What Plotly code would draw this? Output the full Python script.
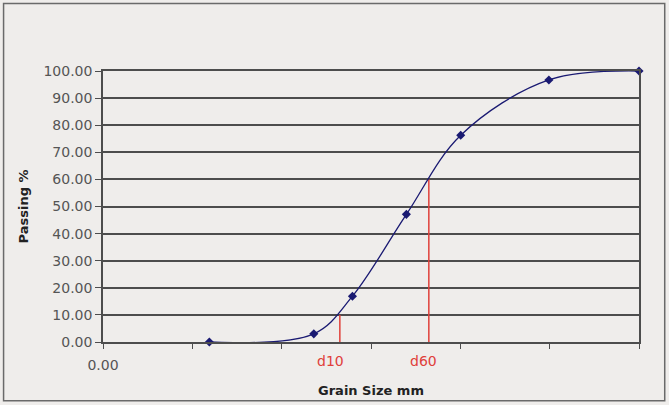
import numpy as np
import plotly.graph_objects as go

# grain size distribution (sieve data)
grain_size = [0.0155, 0.229, 0.62, 2.49, 10.1, 98.0, 1000.0]
passing = [0.0, 3.0, 16.9, 47.1, 76.3, 96.7, 100.0]

d10 = 0.448
d60 = 4.44
d_names = ["d10", "d60"]
d_pct = [10, 60]

x_ticks = [0.001, 0.01, 0.1, 1, 10, 100, 1000]
x_ticktext = ["0.00", "", "", "", "", "", ""]

bg = "#efedeb"
grid = "#4d4d4d"
navy = "#1a1a72"
red = "#e0403a"

fig = go.Figure()

# d10 / d60 markers
for d, p in zip([d10, d60], d_pct):
    fig.add_trace(go.Scatter(x=[d, d], y=[0, p], mode="lines",
                             line=dict(color=red, width=1.5),
                             hoverinfo="skip", showlegend=False))

fig.add_trace(go.Scatter(
    x=grain_size, y=passing, mode="lines+markers",
    line=dict(color=navy, width=1.3, shape="spline", smoothing=1.0),
    marker=dict(symbol="diamond", size=7, color=navy),
    cliponaxis=False, showlegend=False))

for name, d, shift in zip(d_names, [d10, d60], [-9, -5]):
    fig.add_annotation(x=np.log10(d), y=-0.107, xref="x", yref="paper",
                       text=name, showarrow=False, xshift=shift,
                       font=dict(family="DejaVu Sans", size=14, color=red))

# outer frame of the chart
fig.add_shape(type="rect", xref="paper", yref="paper",
              x0=-0.1855, x1=1.048, y0=-0.217, y1=1.249,
              line=dict(color="#6a6a6a", width=1.5))

fig.update_layout(
    width=669, height=405,
    margin=dict(l=103, r=30, t=71, b=63, autoexpand=False),
    paper_bgcolor=bg, plot_bgcolor=bg,
    font=dict(family="DejaVu Sans", size=14, color="#555555"),
)

fig.update_xaxes(
    type="log", range=[-3, 3],
    tickvals=x_ticks, ticktext=x_ticktext,
    ticks="outside", ticklen=5, tickcolor=grid, ticklabelstandoff=4,
    showgrid=False, zeroline=False,
    showline=True, linecolor=grid, linewidth=1.5, mirror=True,
    title=dict(text="<b>Grain Size mm</b>", standoff=14,
               font=dict(family="DejaVu Sans", size=13, color="#222")),
)

fig.update_yaxes(
    range=[0, 100], dtick=10, tickformat=".2f",
    ticks="outside", ticklen=6, tickcolor=grid,
    showgrid=True, gridcolor=grid, gridwidth=1.5,
    zeroline=False,
    showline=True, linecolor=grid, linewidth=1.5, mirror=True,
    title=dict(text="<b>Passing %</b>", standoff=12,
               font=dict(family="DejaVu Sans", size=13, color="#222")),
)

fig.write_html("out.html", config={"displayModeBar": False},
               post_script="document.body.style.margin='0';")
